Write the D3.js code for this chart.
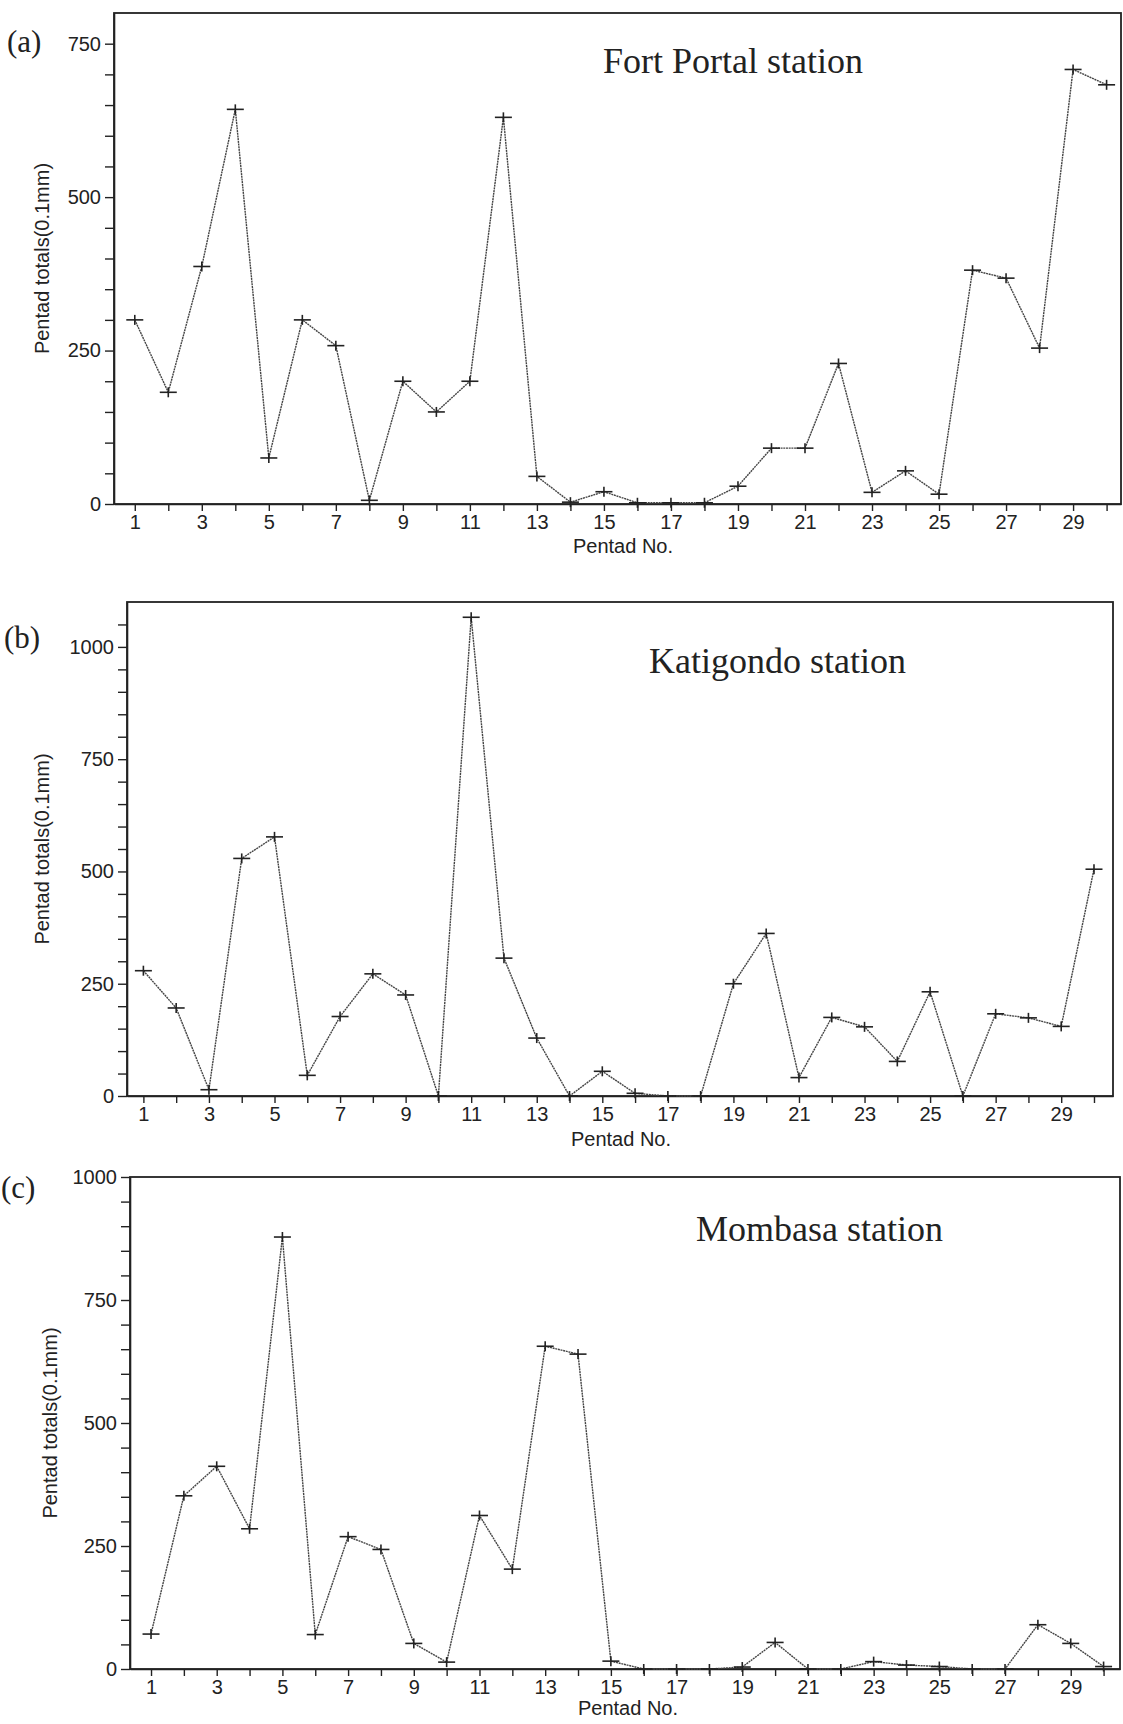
<!DOCTYPE html>
<html>
<head>
<meta charset="utf-8">
<script src="https://cdn.jsdelivr.net/npm/d3@7"></script>
<style>
  body { margin: 0; background: #fff; }
  .tick text { font-family: "Liberation Sans", Arial, sans-serif; font-size: 20px; fill: #222; }
  .tick line { stroke: #222; stroke-width: 1.4; }
  .axis path { stroke: #222; stroke-width: 1.6; }
</style>
</head>
<body>
<script>
// pentad numbers (x) and the three stations' totals
const pentads = d3.range(1, 31);

const fortPortal = [300, 182, 387, 643, 75, 300, 258, 6, 200, 150,
                    200, 630, 45, 3, 20, 2, 2, 2, 29, 91,
                    91, 229, 19, 54, 16, 381, 368, 254, 708, 683];
const katigondo = [279, 196, 14, 529, 577, 46, 177, 272, 225, 0,
                   1066, 307, 129, 0, 55, 6, 0, 0, 250, 362,
                   41, 175, 154, 77, 232, 0, 183, 174, 155, 505];
const mombasa = [71, 352, 412, 285, 878, 70, 269, 243, 52, 14,
                 312, 203, 656, 640, 16, 0, 0, 0, 4, 54,
                 0, 0, 15, 8, 5, 0, 0, 90, 52, 5];

const yLabels = [0, 250, 500, 750, 1000];

const W = 1123, H = 1724;
const svg = d3.select('body').append('svg')
    .attr('width', W)
    .attr('height', H);

function drawPanel(p) {
  let x = d3.scaleLinear().domain(p.xDomain).range([p.left, p.right]);
  let y = d3.scaleLinear().domain([0, p.yMax]).range([p.bottom, p.top]);
  let g = svg.append('g');

  // frame
  g.append('rect')
    .attr('x', p.left).attr('y', p.top)
    .attr('width', p.right - p.left).attr('height', p.bottom - p.top)
    .attr('fill', 'none').attr('stroke', '#222').attr('stroke-width', 1.8);

  let yAxis = d3.axisLeft(y)
    .tickValues(d3.range(0, p.yTickMax + 1, 50))
    .tickFormat(d => yLabels.includes(d) ? d : '')
    .tickSize(9).tickSizeOuter(0).tickPadding(4);
  g.append('g').attr('class', 'axis')
    .attr('transform', `translate(${p.left},0)`)
    .call(yAxis);

  let xAxis = d3.axisBottom(x)
    .tickValues(pentads)
    .tickFormat(d => d % 2 ? d : '')
    .tickSize(7).tickSizeOuter(0).tickPadding(4);
  g.append('g').attr('class', 'axis')
    .attr('transform', `translate(0,${p.bottom})`)
    .call(xAxis);

  // the series line
  let line = d3.line()
    .x((d, i) => x(pentads[i]))
    .y(d => y(d));
  g.append('path')
    .datum(p.values)
    .attr('d', line)
    .attr('fill', 'none')
    .attr('stroke', '#444')
    .attr('stroke-width', 1.4)
    .attr('stroke-dasharray', '2,0.7');

  // plus markers
  let marks = g.selectAll('.mk').data(p.values).join('g')
    .attr('transform', (d, i) => `translate(${x(pentads[i])},${y(d)})`)
    .attr('stroke', '#222').attr('stroke-width', 1.6);
  marks.append('line').attr('x1', -8.5).attr('x2', 8.5);
  marks.append('line').attr('y1', -5).attr('y2', 5);

  // station title
  g.append('text')
    .attr('x', p.titleX).attr('y', p.titleY)
    .attr('font-family', '"Liberation Serif", "Times New Roman", serif')
    .attr('font-size', 36).attr('fill', '#222')
    .text(p.title);

  // panel letter
  g.append('text')
    .attr('x', p.letterX).attr('y', p.letterY)
    .attr('font-family', '"Liberation Serif", "Times New Roman", serif')
    .attr('font-size', 31).attr('fill', '#222')
    .text(p.letter);

  // axis titles
  g.append('text')
    .attr('transform', `translate(${p.yTitleX},${(p.top + p.bottom) / 2}) rotate(-90)`)
    .attr('text-anchor', 'middle').attr('dy', '0.35em')
    .attr('font-family', '"Liberation Sans", Arial, sans-serif')
    .attr('font-size', 20).attr('fill', '#222')
    .text('Pentad totals(0.1mm)');
  g.append('text')
    .attr('x', p.xTitleX).attr('y', p.xTitleY)
    .attr('text-anchor', 'middle')
    .attr('font-family', '"Liberation Sans", Arial, sans-serif')
    .attr('font-size', 20).attr('fill', '#222')
    .text('Pentad No.');
}

drawPanel({
  values: fortPortal, title: 'Fort Portal station', letter: '(a)',
  left: 114, right: 1121, top: 13, bottom: 504,
  xDomain: [0.38, 30.43], yMax: 800, yTickMax: 750,
  titleX: 603, titleY: 73, letterX: 7, letterY: 52,
  yTitleX: 42, xTitleX: 623, xTitleY: 553
});

drawPanel({
  values: katigondo, title: 'Katigondo station', letter: '(b)',
  left: 127, right: 1113, top: 602, bottom: 1096,
  xDomain: [0.5, 30.58], yMax: 1100, yTickMax: 1050,
  titleX: 649, titleY: 673, letterX: 4, letterY: 648,
  yTitleX: 42, xTitleX: 621, xTitleY: 1146
});

drawPanel({
  values: mombasa, title: 'Mombasa station', letter: '(c)',
  left: 130, right: 1120, top: 1177, bottom: 1669,
  xDomain: [0.36, 30.5], yMax: 1000, yTickMax: 1000,
  titleX: 696, titleY: 1241, letterX: 1, letterY: 1198,
  yTitleX: 50, xTitleX: 628, xTitleY: 1715
});
</script>
</body>
</html>
